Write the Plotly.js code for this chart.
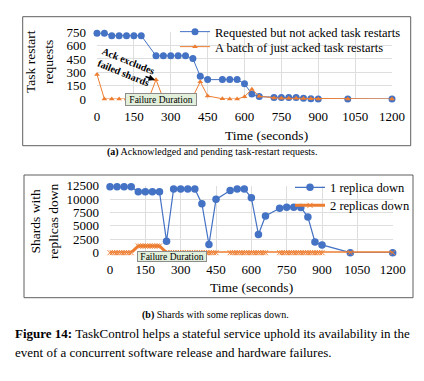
<!DOCTYPE html>
<html>
<head>
<meta charset="utf-8">
<script src="https://cdn.plot.ly/plotly-3.0.1.min.js"></script>
<style>html,body{margin:0;padding:0;background:#fff;}#chart{width:424px;height:381px;}</style>
</head>
<body>
<div id="chart"></div>
<script>
// ---- Data (panel a) ----
var tRequested = [0,30,60,90,120,150,180,240,270,300,330,360,390,420,450,510,540,570,600,630,660,720,750,780,810,840,870,900,1020,1200];
var requested  = [740,740,712,712,712,712,712,485,485,485,485,485,455,255,218,218,218,218,172,55,27,17,17,17,17,8,4,0,0,0];
var tAcked = [0,30,60,90,120,150,180,210,240,270,300,330,360,390,420,450,510,540,570,600,630,660,720,750,780,810,840,870,900,1020,1200];
var acked  = [275,0,0,0,0,0,0,0,217,0,0,0,0,25,195,34,3,0,0,26,110,30,10,8,8,8,5,3,0,0,0];

// ---- Data (panel b) ----
var tOneDown = [0,30,60,90,120,150,180,210,240,270,300,330,360,390,420,450,510,540,570,600,630,660,720,750,780,810,840,870,900,1020,1200];
var oneDown  = [12300,12300,12300,12300,11350,11350,11350,11350,2150,11900,11900,11900,11900,9150,1550,9950,11600,11900,11900,10250,3400,6850,8300,8500,8500,8450,6650,2000,1450,0,0];
var tTwoDown = [0,10,20,30,40,50,60,70,80,90,
                120,130,140,150,160,170,180,190,200,210,
                240,250,260,270,280,290,300,310,320,330,340,350,360,370,380,390,400,410,420,430,440,450,
                510,520,530,540,550,560,570,580,590,600,610,620,630,640,650,660,
                720,730,740,750,760,770,780,790,800,810,820,830,840,850,860,870,880,890,900,
                1020,1200];
var twoDown  = [0,0,0,0,0,0,0,0,0,0,
                1250,1250,1250,1250,1250,1250,1250,1250,1250,1250,
                0,0,0,0,0,0,0,0,0,0,0,0,0,0,0,0,0,0,0,0,0,0,
                0,0,0,0,0,0,0,0,0,0,0,0,0,0,0,0,
                0,0,0,0,0,0,0,0,0,0,0,0,0,0,0,0,0,0,0,
                0,0];
var xTicks = [0,150,300,450,600,750,900,1050,1200];

var BLUE = '#4472C4', ORANGE = '#ED7D31';
var FONT = '"Liberation Serif", "Times New Roman", serif';
function px(x){ return x/424; }
function py(y){ return 1 - y/381; }

var traces = [
  {x: tRequested, y: requested, type: 'scatter', mode: 'lines+markers', name: 'Requested but not acked task restarts',
   line: {color: BLUE, width: 1}, marker: {color: BLUE, size: 7, symbol: 'circle'}, xaxis: 'x', yaxis: 'y', legend: 'legend', cliponaxis: false},
  {x: tAcked, y: acked, type: 'scatter', mode: 'lines+markers', name: 'A batch of just acked task restarts',
   line: {color: ORANGE, width: 1}, marker: {color: ORANGE, size: 5, symbol: 'triangle-up'}, xaxis: 'x', yaxis: 'y', legend: 'legend3', cliponaxis: false},
  {x: tOneDown, y: oneDown, type: 'scatter', mode: 'lines+markers', name: '1 replica down',
   line: {color: BLUE, width: 1.2}, marker: {color: BLUE, size: 7.5, symbol: 'circle'}, xaxis: 'x2', yaxis: 'y2', legend: 'legend2', cliponaxis: false},
  {x: tTwoDown, y: twoDown, type: 'scatter', mode: 'lines+markers', name: '2 replicas down',
   line: {color: ORANGE, width: 3}, marker: {color: ORANGE, size: 5, symbol: 'x-thin', line: {color: ORANGE, width: 1}}, xaxis: 'x2', yaxis: 'y2', legend: 'legend4', cliponaxis: false}
];

function axis(extra){
  var a = {showgrid: true, gridcolor: '#dedede', gridwidth: 1, zeroline: false, showline: false, ticks: '',
    tickfont: {family: FONT, size: 13, color: '#000'}, fixedrange: true};
  return Object.assign(a, extra);
}
function legendAt(x, y){
  return {x: px(x), y: py(y), xanchor: 'left', yanchor: 'top', bgcolor: 'rgba(0,0,0,0)', font: {family: FONT, size: 12.5, color: '#000'}, tracegroupgap: 0};
}
function ann(x, y, text, size, extra){
  return Object.assign({xref: 'paper', yref: 'paper', x: px(x), y: py(y), xanchor: 'center', yanchor: 'middle', text: text, showarrow: false,
    font: {family: FONT, size: size, color: '#000'}}, extra || {});
}

var layout = {
  width: 424, height: 381,
  margin: {l: 0, r: 0, t: 0, b: 0},
  paper_bgcolor: '#fff', plot_bgcolor: '#fff',
  font: {family: FONT, color: '#000'},
  showlegend: true,
  xaxis: axis({domain: [px(97), px(392)], range: [0, 1200], tickvals: xTicks, anchor: 'y', ticklabelstandoff: 8}),
  yaxis: axis({domain: [py(99), py(32.3)], range: [0, 750], dtick: 150, anchor: 'x', ticklabelstandoff: 10}),
  xaxis2: axis({domain: [px(110), px(392.7)], range: [0, 1200], tickvals: xTicks, anchor: 'y2', ticklabelstandoff: 7}),
  yaxis2: axis({domain: [py(252.7), py(185.7)], range: [0, 12500], dtick: 2500, tickformat: 'd', anchor: 'x2', ticklabelstandoff: 10}),
  legend: legendAt(175, 17),
  legend3: legendAt(175, 32),
  legend2: legendAt(290, 172.7),
  legend4: legendAt(290, 190.7),
  shapes: [
    {type: 'rect', xref: 'paper', yref: 'paper', x0: px(22.7), x1: px(410.7), y0: py(145.7), y1: py(16.7), line: {color: '#5f5f5f', width: 1}, fillcolor: 'rgba(0,0,0,0)'},
    {type: 'rect', xref: 'paper', yref: 'paper', x0: px(24), x1: px(413), y0: py(297.7), y1: py(175), line: {color: '#5f5f5f', width: 1}, fillcolor: 'rgba(0,0,0,0)'}
  ],
  annotations: [
    // axis titles
    ann(40, 62, 'Task restart<br>requests', 13.5, {textangle: -90}),
    ann(266, 135, 'Time (seconds)', 13.5),
    ann(44, 221, 'Shards with<br>replicas down', 13.5, {textangle: -90}),
    ann(251.5, 287, 'Time (seconds)', 13.5),
    // Failure duration boxes
    ann(161, 99, 'Failure Duration', 9.5, {bgcolor: '#E2EFDA', bordercolor: '#8c8c8c', borderwidth: 1, borderpad: 0, width: 70, height: 11}),
    ann(171.7, 256, 'Failure Duration', 9.5, {bgcolor: '#E2EFDA', bordercolor: '#8c8c8c', borderwidth: 1, borderpad: 0, width: 68, height: 9}),
    // Ack excludes note
    ann(126, 67, '<b>Ack excludes<br>failed shards</b>', 10, {textangle: 22}),
    {xref: 'paper', yref: 'paper', x: px(155), y: py(80), text: '', showarrow: true, axref: 'pixel', ayref: 'pixel', ax: -11, ay: -4,
     arrowhead: 2, arrowsize: 0.8, arrowwidth: 1.6, arrowcolor: '#000'},
    // captions
    ann(212, 152, '<b>(a)</b> Acknowledged and pending task-restart requests.', 10),
    ann(215.5, 315, '<b>(b)</b> Shards with some replicas down.', 10),
    ann(13, 333, '<b>Figure 14:</b> TaskControl helps a stateful service uphold its availability in the', 13, {xanchor: 'left'}),
    ann(13, 352, 'event of a concurrent software release and hardware failures.', 13, {xanchor: 'left'})
  ]
};

Plotly.newPlot('chart', traces, layout, {displayModeBar: false, staticPlot: true});
</script>
</body>
</html>
